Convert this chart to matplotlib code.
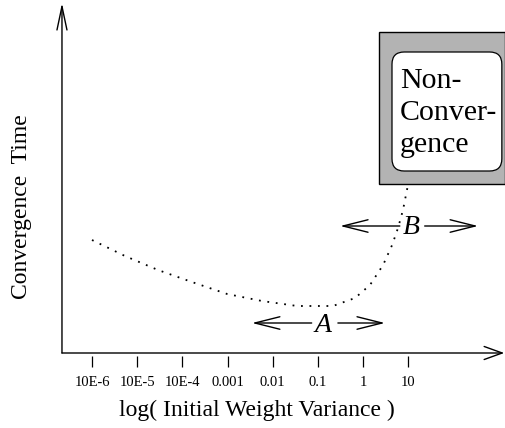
import matplotlib
matplotlib.use("Agg")
import matplotlib.pyplot as plt
from matplotlib.patches import FancyArrowPatch, Rectangle, FancyBboxPatch

# data (x in log10 of initial weight variance, y = convergence time, arbitrary units)
curve_x = [-6.0, -5.27, -4.54, -3.79, -3.01, -2.24, -1.46, -0.67, -0.18, 0.15, 0.44, 0.64, 0.77, 0.88, 0.99]
curve_y = [113, 97, 83, 71, 59, 52, 47, 47, 55, 68, 88, 108, 125, 143, 168]
tick_vals = [-6, -5, -4, -3, -2, -1, 0, 1]
tick_labels = ["10E-6", "10E-5", "10E-4", "0.001", "0.01", "0.1", "1", "10"]
region_A = (-2.46, 0.48)
region_B = (-0.51, 2.54)

SERIF = ["Liberation Serif", "DejaVu Serif"]

fig = plt.figure(figsize=(5.06, 4.28), dpi=100)
ax = fig.add_axes([0, 0, 1, 1])
ax.set_xlim(-8.035, 3.159)
ax.set_ylim(-75, 353)
ax.axis("off")

x0 = -6.664  # axis origin
# axes arrows
ax.add_patch(FancyArrowPatch((x0, 0), (x0, 350), arrowstyle="->,head_length=17,head_width=3.6",
                             mutation_scale=1, lw=1.0, color="black", shrinkA=0, shrinkB=0))
ax.add_patch(FancyArrowPatch((x0, 0), (3.12, 0), arrowstyle="->,head_length=13,head_width=4.7",
                             mutation_scale=1, lw=1.0, color="black", shrinkA=0, shrinkB=0))

# ticks and labels
ax.vlines(tick_vals, -3, -14, color="black", lw=0.9)
for v, lab in zip(tick_vals, tick_labels):
    ax.text(v, -30, lab, ha="center", va="center", fontsize=10.5, family=SERIF)
ax.text(-2.35, -57, "log( Initial Weight Variance )", ha="center", va="center", fontsize=17, family=SERIF)
ax.text(-7.55, 146, "Convergence  Time", ha="center", va="center", rotation=90, fontsize=17, family=SERIF)

# curve
ax.plot(curve_x, curve_y, color="black", lw=1.3, linestyle=(0, (1, 3.7)), solid_capstyle="butt")

# non-convergence box
ax.add_patch(Rectangle((0.35, 169), 2.79, 152, facecolor="#b3b3b3", edgecolor="black", lw=1.0, zorder=3))
ax.add_patch(FancyBboxPatch((0.637, 182), 2.43, 119, boxstyle="round,pad=0,rounding_size=0.27",
                            mutation_aspect=45.2, facecolor="white", edgecolor="black", lw=0.9, zorder=4))
ax.text(0.81, 240, "Non-\nConver-\ngence", ha="left", va="center", fontsize=21.5, family=SERIF,
        linespacing=1.28, zorder=5)

# region arrows
def region(lo, hi, y, lab, lab_x, gap_l, gap_r):
    ax.add_patch(FancyArrowPatch((lab_x - gap_l, y), (lo, y), arrowstyle="->,head_length=18,head_width=4.5",
                                 mutation_scale=1, lw=1.0, color="black", shrinkA=0, shrinkB=0))
    ax.add_patch(FancyArrowPatch((lab_x + gap_r, y), (hi, y), arrowstyle="->,head_length=18,head_width=4.5",
                                 mutation_scale=1, lw=1.0, color="black", shrinkA=0, shrinkB=0))
    ax.text(lab_x, y - 2, lab, ha="center", va="center", fontsize=20, style="italic", family=SERIF)

region(region_A[0], region_A[1], 30, "A", -0.89, 0.25, 0.33)
region(region_B[0], region_B[1], 127, "B", 1.06, 0.25, 0.3)

fig.savefig("out.png", dpi=100)
